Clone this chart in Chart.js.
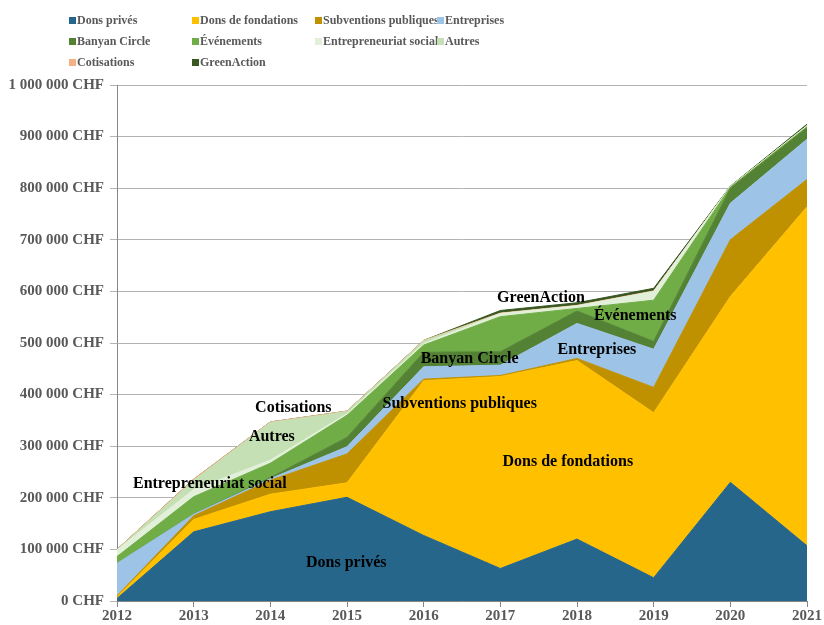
<!DOCTYPE html>
<html>
<head>
<meta charset="utf-8">
<script src="https://cdn.jsdelivr.net/npm/chart.js@4"></script>
<style>
  body { margin: 0; background: #fff; }
  #wrap { position: relative; width: 824px; height: 625px; }
  #legend {
    position: absolute; left: 69px; top: 10px;
    display: grid; grid-template-columns: 123px 123px 122px auto;
    grid-auto-rows: 21px;
    font: bold 12px "Liberation Serif", serif; color: #595959;
  }
  #legend .item { display: flex; align-items: center; white-space: nowrap; overflow: visible; }
  #legend .box { flex: 0 0 7px; width: 7px; height: 7px; margin-right: 1px; }
</style>
</head>
<body>
<div id="wrap">
  <canvas id="chart" width="824" height="625"></canvas>
  <div id="legend"></div>
</div>
<script>
// Data (CHF)
const years = ['2012', '2013', '2014', '2015', '2016', '2017', '2018', '2019', '2020', '2021'];
const donsPrives      = [5000, 134000, 173000, 201000, 127000, 63000, 120000, 45000, 230000, 107000];
const donsFondations  = [3000, 24000, 34000, 28000, 300000, 372000, 346000, 320000, 360000, 657000];
const subventions     = [2000, 7000, 27000, 56000, 3000, 2000, 4000, 49000, 110000, 53000];
const entreprises     = [63000, 3000, 3000, 14000, 24000, 20000, 68000, 74000, 71000, 78000];
const banyanCircle    = [0, 0, 2000, 18000, 28000, 26000, 24000, 15000, 29000, 22000];
const evenements      = [13000, 34000, 28000, 43000, 14000, 68000, 5000, 80000, 2000, 2000];
const entrepreneuriat = [13000, 14000, 6000, 3000, 3000, 6000, 5000, 17000, 1000, 2000];
const autres          = [0, 18000, 73000, 4000, 5000, 0, 0, 0, 0, 0];
const cotisations     = [1000, 2000, 1000, 1000, 1000, 1000, 1000, 1000, 0, 0];
const greenAction     = [0, 0, 0, 0, 0, 5000, 5000, 5000, 1000, 3000];

const series = [
  { label: 'Dons privés', data: donsPrives, color: '#26668B' },
  { label: 'Dons de fondations', data: donsFondations, color: '#FFC000' },
  { label: 'Subventions publiques', data: subventions, color: '#BF9000' },
  { label: 'Entreprises', data: entreprises, color: '#9DC3E6' },
  { label: 'Banyan Circle', data: banyanCircle, color: '#548235' },
  { label: 'Événements', data: evenements, color: '#70AD47' },
  { label: 'Entrepreneuriat social', data: entrepreneuriat, color: '#E2F0D9' },
  { label: 'Autres', data: autres, color: '#C5E0B4' },
  { label: 'Cotisations', data: cotisations, color: '#F4B183' },
  { label: 'GreenAction', data: greenAction, color: '#385723' }
];

// in-chart labels, placed in data space (x = year index, y = CHF)
const areaLabels = [
  { text: 'Dons privés', x: 2.99, y: 73000 },
  { text: 'Dons de fondations', x: 5.88, y: 269000 },
  { text: 'Subventions publiques', x: 4.47, y: 382000 },
  { text: 'Entreprises', x: 6.26, y: 486000 },
  { text: 'Banyan Circle', x: 4.60, y: 469000 },
  { text: 'Événements', x: 6.76, y: 552000 },
  { text: 'GreenAction', x: 5.53, y: 587000 },
  { text: 'Entrepreneuriat social', x: 1.21, y: 227000 },
  { text: 'Autres', x: 2.02, y: 318000 },
  { text: 'Cotisations', x: 2.30, y: 374000 }
];

const serif = '"Liberation Serif", serif';
const grey = '#595959';

function fmtCHF(v) {
  return String(v).replace(/\B(?=(\d{3})+(?!\d))/g, ' ') + ' CHF';
}

// Legend
const legendDiv = document.getElementById('legend');
series.forEach(s => {
  const item = document.createElement('div');
  item.className = 'item';
  item.innerHTML = `<span class="box" style="background:${s.color}"></span>${s.label}`;
  legendDiv.appendChild(item);
});

const labelPlugin = {
  id: 'areaLabels',
  afterDatasetsDraw(chart) {
    const ctx = chart.ctx;
    const xs = chart.scales.x, ys = chart.scales.y;
    ctx.save();
    ctx.font = 'bold 16px ' + serif;
    ctx.fillStyle = '#000';
    ctx.textAlign = 'center';
    ctx.textBaseline = 'middle';
    areaLabels.forEach(l => {
      ctx.fillText(l.text, xs.getPixelForValue(l.x), ys.getPixelForValue(l.y));
    });
    ctx.restore();
  }
};

new Chart(document.getElementById('chart'), {
  type: 'line',
  data: {
    labels: years,
    datasets: series.map((s, i) => ({
      label: s.label,
      data: s.data,
      backgroundColor: s.color,
      borderColor: s.color,
      borderWidth: 1,
      pointRadius: 0,
      tension: 0,
      fill: i === 0 ? 'origin' : '-1'
    }))
  },
  options: {
    responsive: false,
    animation: false,
    layout: { padding: { top: 85, right: 17, left: 0, bottom: 0 } },
    plugins: {
      legend: { display: false },
      tooltip: { enabled: false }
    },
    scales: {
      x: {
        offset: false,
        grid: { drawOnChartArea: false, drawTicks: true, tickLength: 6, color: '#868686' },
        border: { color: '#868686' },
        ticks: { color: grey, font: { family: serif, size: 15, weight: 'bold' }, padding: 0, maxRotation: 0 },
        afterFit(scale) { scale.height = 24; }
      },
      y: {
        stacked: true,
        min: 0,
        max: 1000000,
        grid: { color: '#b3b3b3', tickLength: 7 },
        border: { color: '#868686' },
        ticks: {
          stepSize: 100000,
          color: grey,
          font: { family: serif, size: 15, weight: 'bold' },
          padding: 6,
          callback: v => fmtCHF(v)
        },
        afterFit(scale) { scale.width = 117; }
      }
    }
  },
  plugins: [labelPlugin]
});
</script>
</body>
</html>
